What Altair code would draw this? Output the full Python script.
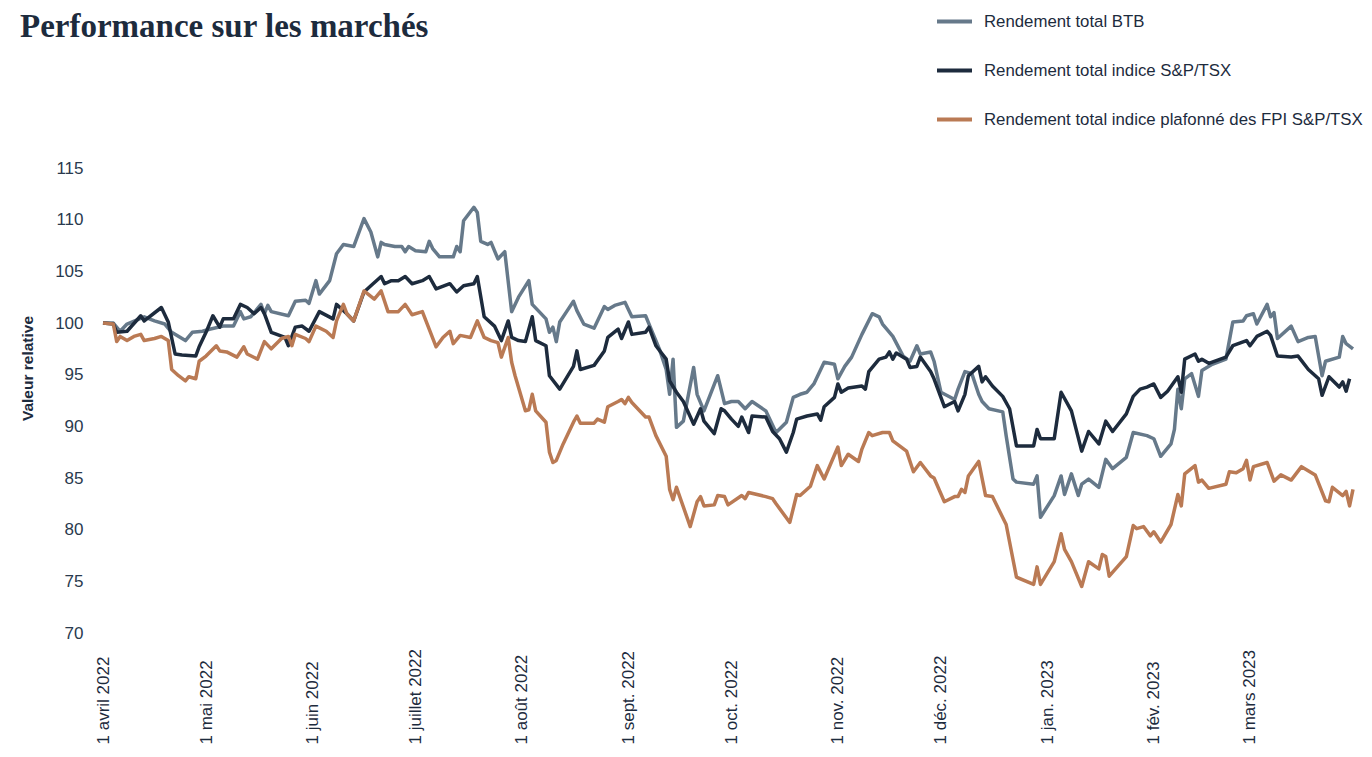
import json
import altair as alt
import pandas as pd

# ---------------- data (days since 1 April 2022, relative value) ----------------
SERIES = [
    "Rendement total BTB",
    "Rendement total indice S&P/TSX",
    "Rendement total indice plafonné des FPI S&P/TSX",
]
COLORS = ["#66798a", "#1d2b3d", "#ba7a54"]

BTB_DAYS = [0, 3, 5, 7, 12, 15, 18, 20, 24, 26, 29, 31, 35, 38, 40, 41, 43, 46, 47, 48, 49, 54, 56, 59,
            60, 62, 63, 66, 68, 70, 73, 76, 78, 80, 81, 82, 85, 87, 88, 89, 91, 94, 95, 96, 98, 102, 103,
            104, 105, 108, 109, 110, 112, 113, 115, 117, 119, 120, 121, 124, 125, 129, 130, 131, 132, 133,
            135, 137, 138, 140, 143, 146, 147, 149, 152, 154, 158, 160, 162, 164, 165, 166, 167, 169, 172,
            173, 175, 179, 181, 183, 185, 187, 189, 193, 196, 199, 201, 203, 205, 207, 210, 213, 214, 216,
            218, 221, 224, 226, 227, 230, 233, 235, 237, 238, 241, 242, 244, 248, 249, 251, 253, 255, 256,
            258, 262, 263, 265, 266, 271, 272, 273, 277, 279, 280, 282, 284, 285, 287, 290, 292, 294, 298,
            300, 304, 306, 308, 311, 312, 313, 314, 315, 317, 319, 320, 323, 327, 329, 332, 333, 335, 336,
            339, 340, 341, 342, 346, 348, 351, 353, 355, 356, 360, 361, 362, 364]
BTB_VALUES = [100.0, 100.0, 99.2, 99.9, 100.6, 100.2, 99.9, 99.1, 98.3, 99.1, 99.2, 99.4, 99.7, 99.7, 101.1,
              100.4, 100.6, 101.8, 100.9, 101.7, 101.1, 100.7, 102.1, 102.2, 101.9, 104.1, 102.8, 104.1,
              106.7, 107.6, 107.4, 110.1, 108.8, 106.4, 107.8, 107.6, 107.4, 107.4, 106.9, 107.4, 107.0,
              106.9, 107.9, 107.2, 106.4, 106.4, 107.4, 106.9, 109.9, 111.2, 110.7, 107.9, 107.6, 107.8,
              106.2, 106.9, 101.1, 101.8, 102.5, 104.1, 101.8, 100.4, 99.1, 99.6, 98.2, 100.1, 101.1,
              102.1, 101.2, 99.9, 99.5, 101.6, 101.3, 101.7, 102.0, 100.6, 100.7, 99.1, 97.5, 95.5, 93.1,
              96.5, 89.9, 90.5, 95.7, 93.1, 91.5, 94.9, 92.2, 92.4, 92.4, 91.7, 92.4, 91.5, 89.4, 90.4,
              92.8, 93.1, 93.3, 94.1, 96.2, 96.0, 94.6, 95.8, 96.7, 98.9, 100.9, 100.6, 99.9, 98.7, 96.8,
              96.3, 97.8, 97.0, 97.2, 96.3, 93.3, 92.6, 93.6, 95.3, 95.1, 93.1, 92.4, 91.7, 91.4, 89.1,
              84.9, 84.6, 84.4, 85.2, 81.2, 83.3, 85.2, 83.4, 85.4, 83.3, 84.4, 84.9, 84.1, 86.8, 85.9,
              87.0, 89.4, 89.1, 88.8, 87.1, 88.3, 89.7, 93.6, 91.7, 94.6, 95.1, 92.9, 95.4, 96.0, 96.5,
              100.1, 100.2, 100.7, 100.9, 99.9, 101.8, 100.6, 101.0, 98.5, 99.7, 98.2, 98.6, 98.7, 94.9,
              96.3, 96.7, 98.7, 98.0, 97.5]

TSX_DAYS = [0, 3, 4, 7, 11, 12, 17, 19, 21, 23, 27, 28, 30, 32, 34, 35, 38, 40, 42, 44, 46, 47, 49, 53,
            54, 56, 58, 60, 63, 67, 68, 71, 73, 76, 78, 81, 82, 84, 86, 88, 90, 93, 95, 97, 101, 103, 105,
            108, 109, 111, 114, 116, 118, 119, 121, 123, 125, 126, 129, 130, 133, 137, 138, 139, 143, 146,
            147, 150, 151, 153, 154, 158, 159, 161, 164, 165, 167, 169, 172, 174, 175, 178, 180, 181, 183,
            185, 186, 188, 189, 193, 195, 197, 199, 201, 202, 205, 208, 209, 210, 213, 214, 215, 217, 221,
            222, 223, 226, 228, 229, 230, 231, 234, 235, 237, 238, 241, 242, 245, 248, 249, 251, 252, 255,
            256, 257, 259, 262, 264, 266, 271, 272, 273, 277, 279, 282, 285, 287, 290, 292, 294, 298, 300,
            302, 304, 306, 308, 310, 313, 314, 315, 318, 319, 320, 322, 327, 329, 333, 334, 336, 339, 340,
            342, 346, 348, 351, 354, 355, 357, 360, 361, 362, 363]
TSX_VALUES = [100.0, 99.9, 99.1, 99.2, 100.7, 100.2, 101.5, 100.1, 97.0, 96.9, 96.8, 97.7, 99.1, 100.7,
              99.6, 100.4, 100.4, 101.8, 101.5, 100.9, 101.5, 100.9, 99.1, 98.6, 97.8, 99.6, 99.7, 99.2,
              101.1, 100.4, 101.8, 100.9, 100.2, 103.0, 103.6, 104.5, 103.8, 104.1, 104.1, 104.5, 103.8,
              104.1, 104.5, 103.3, 103.8, 103.0, 103.6, 103.8, 104.5, 100.6, 99.7, 98.3, 100.2, 98.6,
              98.3, 98.2, 100.6, 98.3, 97.8, 94.9, 93.6, 95.8, 97.3, 95.5, 95.9, 97.3, 98.6, 99.4, 98.5,
              100.1, 98.9, 99.1, 99.6, 97.8, 96.5, 94.4, 93.3, 92.4, 90.2, 91.7, 90.5, 89.3, 91.7, 91.5,
              90.7, 90.0, 90.9, 89.4, 91.0, 90.9, 89.5, 88.8, 87.5, 89.4, 90.7, 91.0, 91.2, 90.6, 91.9,
              92.8, 94.1, 93.3, 93.7, 93.9, 93.6, 95.3, 96.5, 96.7, 97.2, 96.5, 97.1, 96.5, 95.7, 95.8,
              96.7, 95.3, 94.6, 91.9, 92.4, 91.5, 93.1, 94.9, 95.8, 94.3, 94.8, 93.9, 92.9, 91.7, 88.1,
              88.1, 89.7, 88.8, 88.8, 93.3, 91.5, 87.6, 89.5, 88.3, 90.5, 89.5, 91.2, 92.9, 93.6, 93.8,
              94.1, 92.8, 93.4, 94.8, 93.3, 96.5, 97.0, 96.3, 96.5, 96.1, 96.7, 97.8, 98.3, 97.8, 98.7,
              99.2, 98.8, 96.8, 96.7, 96.8, 95.5, 94.6, 93.0, 94.8, 93.8, 94.3, 93.4, 94.6]

FPI_DAYS = [0, 3, 4, 5, 7, 9, 11, 12, 15, 17, 19, 20, 22, 24, 25, 27, 28, 30, 33, 34, 36, 39, 41, 42, 45,
            47, 49, 52, 54, 55, 56, 59, 60, 62, 65, 67, 68, 70, 71, 73, 76, 79, 81, 83, 86, 88, 90, 93, 97,
            99, 101, 102, 104, 107, 109, 111, 113, 115, 116, 118, 119, 120, 123, 124, 125, 126, 129, 130,
            131, 132, 134, 137, 138, 139, 143, 144, 146, 147, 150, 151, 152, 153, 154, 158, 159, 161, 164,
            165, 166, 167, 171, 173, 174, 175, 178, 179, 181, 182, 186, 187, 188, 193, 195, 196, 200, 202,
            203, 206, 208, 210, 214, 215, 217, 220, 221, 223, 224, 227, 229, 230, 234, 236, 238, 241, 242,
            245, 248, 249, 250, 251, 252, 255, 257, 259, 263, 266, 271, 272, 273, 277, 279, 280, 282, 285,
            287, 290, 291, 292, 293, 298, 300, 301, 303, 305, 306, 308, 311, 313, 314, 315, 318, 319, 320,
            322, 327, 328, 330, 332, 333, 334, 335, 339, 341, 343, 346, 349, 353, 356, 357, 358, 361, 362,
            363, 364]
FPI_VALUES = [100.0, 99.9, 98.2, 98.7, 98.3, 98.7, 98.9, 98.3, 98.5, 98.7, 98.3, 95.5, 94.9, 94.4, 94.8,
              94.6, 96.3, 96.8, 97.8, 97.3, 97.2, 96.7, 97.7, 97.0, 96.5, 98.2, 97.5, 98.5, 98.7, 97.8,
              98.9, 98.5, 98.2, 99.7, 99.2, 98.6, 100.2, 101.8, 100.9, 100.2, 103.1, 102.3, 103.1, 101.1,
              101.1, 101.8, 100.8, 101.1, 97.7, 98.6, 99.2, 98.0, 98.8, 98.6, 100.2, 98.6, 98.3, 98.1,
              96.7, 98.6, 96.2, 94.9, 91.5, 91.6, 93.1, 91.5, 90.4, 87.5, 86.5, 86.7, 88.3, 90.4, 91.0,
              90.3, 90.3, 90.7, 90.4, 91.9, 92.4, 92.6, 92.2, 92.8, 92.3, 90.9, 90.9, 89.1, 87.1, 83.9,
              82.9, 84.1, 80.3, 82.7, 83.2, 82.3, 82.4, 83.3, 83.2, 82.4, 83.3, 83.0, 83.6, 83.2, 83.0,
              82.5, 80.7, 83.4, 83.3, 84.2, 86.2, 84.9, 88.0, 86.2, 87.3, 86.6, 87.8, 89.4, 89.1, 89.4,
              89.4, 88.6, 87.6, 85.6, 86.5, 85.2, 85.0, 82.7, 83.2, 83.2, 83.9, 83.6, 85.2, 86.6, 83.3,
              83.2, 80.5, 75.4, 74.7, 76.4, 74.7, 76.9, 79.6, 78.1, 76.9, 74.5, 76.9, 76.2, 77.6, 77.4,
              75.5, 77.4, 80.4, 80.1, 80.3, 79.4, 79.8, 78.8, 80.5, 83.4, 82.3, 85.4, 86.2, 84.6, 84.8,
              84.0, 84.4, 85.6, 85.5, 85.9, 86.7, 84.8, 86.1, 86.5, 84.7, 85.3, 84.8, 86.1, 85.3, 82.8,
              82.7, 84.1, 83.3, 83.7, 82.3, 83.9]

START_DATE = "2022-04-01"
Y_TICKS = [70, 75, 80, 85, 90, 95, 100, 105, 110, 115]
MONTH_NAMES = ["jan.", "fév.", "mars", "avril", "mai", "juin", "juillet", "août",
               "sept.", "oct.", "nov.", "déc."]
TICK_MONTHS = [(2022, 4), (2022, 5), (2022, 6), (2022, 7), (2022, 8), (2022, 9), (2022, 10),
               (2022, 11), (2022, 12), (2023, 1), (2023, 2), (2023, 3)]
TITLE = "Performance sur les marchés"
Y_TITLE = "Valeur relative"

# ---------------- build table ----------------
frames = []
for name, days, vals in zip(SERIES, [BTB_DAYS, TSX_DAYS, FPI_DAYS], [BTB_VALUES, TSX_VALUES, FPI_VALUES]):
    d = pd.DataFrame({"day": days, "value": vals})
    d["date"] = pd.Timestamp(START_DATE) + pd.to_timedelta(d["day"], unit="D")
    d["series"] = name
    frames.append(d)
df = pd.concat(frames, ignore_index=True)
title_df = pd.DataFrame({"title": [TITLE]})

INK = "#1d2b3d"
SANS = "Liberation Sans"

label_expr = ("'1 ' + " + json.dumps(MONTH_NAMES, ensure_ascii=False)
              + "[month(datum.value)] + ' ' + year(datum.value)")

x_enc = alt.X(
    "date:T",
    scale=alt.Scale(domain=[alt.DateTime(year=2022, month=4, date=1),
                            alt.DateTime(year=2023, month=3, date=31)]),
    axis=alt.Axis(
        values=[alt.DateTime(year=y, month=m, date=1) for y, m in TICK_MONTHS],
        labelExpr=label_expr,
        labelAngle=270,
        labelAlign="left",
        labelBaseline="middle",
        labelPadding=111,
        labelFont=SANS,
        labelFontSize=17,
        labelColor=INK,
        labelOverlap=False,
        labelFlush=False,
        labelBound=False,
        ticks=False,
        tickSize=0,
        domain=False,
        grid=False,
        title=None,
    ),
)

y_enc = alt.Y(
    "value:Q",
    scale=alt.Scale(domain=[70, 115], nice=False, zero=False),
    axis=alt.Axis(
        values=Y_TICKS,
        labelPadding=20,
        labelFont=SANS,
        labelFontSize=17,
        labelColor="#2a3a4e",
        ticks=False,
        tickSize=0,
        domain=False,
        grid=False,
        title=Y_TITLE,
        titleFont=SANS,
        titleFontSize=15.5,
        titleFontWeight="bold",
        titleColor=INK,
        titleAngle=270,
        titleAlign="center",
        titleBaseline="middle",
        titleX=-76,
        titleY=200,
    ),
)

color_enc = alt.Color(
    "series:N",
    scale=alt.Scale(domain=SERIES, range=COLORS),
    title=None,
    legend=alt.Legend(
        orient="none",
        legendX=832,
        legendY=-166,
        direction="vertical",
        symbolType="stroke",
        symbolSize=1225,
        symbolStrokeWidth=4,
        labelFont=SANS,
        labelFontSize=16.8,
        labelColor=INK,
        labelOffset=10,
        labelLimit=600,
        rowPadding=20,
    ),
)

lines = (
    alt.Chart(df)
    .mark_line(strokeWidth=3.5, strokeJoin="round")
    .encode(x=x_enc, y=y_enc, color=color_enc, detail="series:N", order="day:Q")
)

title_mark = (
    alt.Chart(title_df)
    .mark_text(align="left", baseline="alphabetic", font="Liberation Serif",
               fontSize=33, fontWeight="bold", color=INK)
    .encode(text="title:N", x=alt.value(-83), y=alt.value(-131))
)

chart = (
    alt.layer(lines, title_mark)
    .properties(
        width=1250,
        height=465,
        autosize=alt.AutoSizeParams(type="none"),
        padding={"left": 95, "top": 160, "right": 10, "bottom": 112},
        background="white",
    )
    .configure_view(stroke=None)
)

chart.save("out.html", embed_options={"renderer": "svg", "actions": False})
